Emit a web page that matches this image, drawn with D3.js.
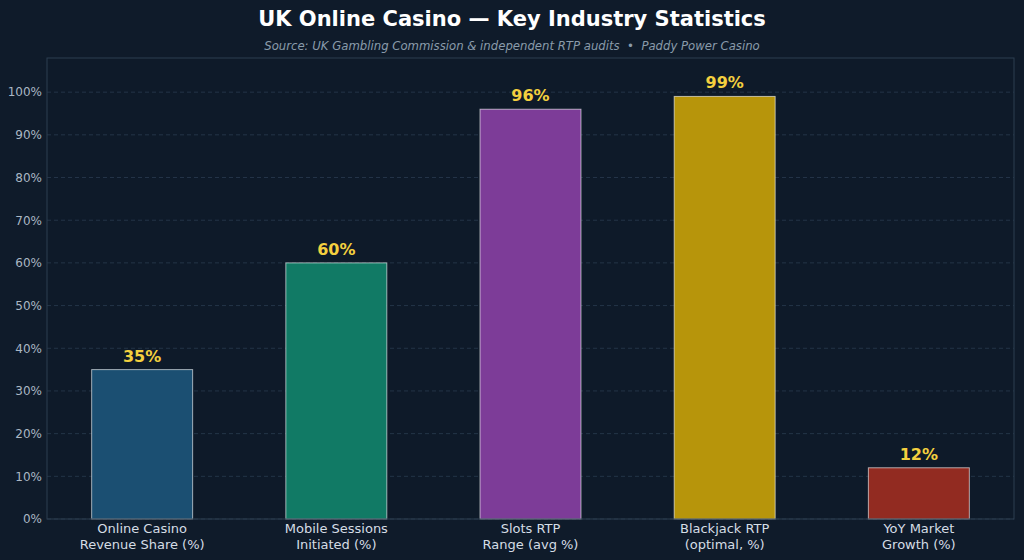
<!DOCTYPE html>
<html>
<head>
<meta charset="utf-8">
<script src="https://cdn.jsdelivr.net/npm/d3@7"></script>
<style>
  body { margin: 0; background: #0f1b2a; }
  svg { display: block; font-family: 'DejaVu Sans', sans-serif; }
</style>
</head>
<body>
<div id="chart"></div>
<script>
const categories = [
  'Online Casino\nRevenue Share (%)',
  'Mobile Sessions\nInitiated (%)',
  'Slots RTP\nRange (avg %)',
  'Blackjack RTP\n(optimal, %)',
  'YoY Market\nGrowth (%)'
];
const values = [35, 60, 96, 99, 12];
const barColors = ['#1b4f72', '#117a65', '#7d3c98', '#b7950b', '#922b21'];
const yTicks = [0, 10, 20, 30, 40, 50, 60, 70, 80, 90, 100];

const width = 1024, height = 560;
const margin = { top: 58, right: 10, bottom: 41, left: 47 };
const innerW = width - margin.left - margin.right;
const innerH = height - margin.top - margin.bottom;

const svg = d3.select('#chart').append('svg')
  .attr('width', width)
  .attr('height', height);

svg.append('rect').attr('width', width).attr('height', height).attr('fill', '#0f1b2a');

svg.append('text')
  .attr('x', width / 2).attr('y', 26)
  .attr('text-anchor', 'middle')
  .attr('fill', '#ffffff')
  .style('font-size', '21px').style('font-weight', 'bold')
  .text('UK Online Casino — Key Industry Statistics');

svg.append('text')
  .attr('x', width / 2).attr('y', 50)
  .attr('text-anchor', 'middle')
  .attr('fill', '#8a9bab')
  .style('font-size', '11.7px').style('font-style', 'italic')
  .style('white-space', 'pre')
  .text('Source: UK Gambling Commission & independent RTP audits  •  Paddy Power Casino');

const g = svg.append('g').attr('transform', 'translate(' + margin.left + ',' + margin.top + ')');

g.append('rect').attr('width', innerW).attr('height', innerH).attr('fill', '#0e1a29');

const x = d3.scaleBand().domain(categories).range([0, innerW]).paddingInner(0.48).paddingOuter(0.23);
const y = d3.scaleLinear().domain([0, 108]).range([innerH, 0]);

// grid
g.append('g')
  .selectAll('line')
  .data(yTicks)
  .enter()
  .append('line')
  .attr('x1', 0).attr('x2', innerW)
  .attr('y1', (d) => y(d)).attr('y2', (d) => y(d))
  .attr('stroke', '#2a3b4f')
  .attr('stroke-width', 0.8)
  .attr('stroke-dasharray', '4,3');

// bars
g.selectAll('rect.bar')
  .data(values)
  .enter()
  .append('rect')
  .attr('class', 'bar')
  .attr('x', (d, i) => x(categories[i]))
  .attr('y', (d) => y(d))
  .attr('width', x.bandwidth())
  .attr('height', (d) => innerH - y(d))
  .attr('fill', (d, i) => barColors[i])
  .attr('stroke', 'rgba(255,255,255,0.6)')
  .attr('stroke-width', 1);

// value labels
g.selectAll('text.val')
  .data(values)
  .enter()
  .append('text')
  .attr('class', 'val')
  .attr('x', (d, i) => x(categories[i]) + x.bandwidth() / 2)
  .attr('y', (d) => y(d) - 8)
  .attr('text-anchor', 'middle')
  .attr('fill', '#f4d03f')
  .style('font-size', '16px').style('font-weight', 'bold')
  .text((d) => d + '%');

// y axis
const yAxis = g.append('g')
  .call(d3.axisLeft(y).tickValues(yTicks).tickFormat((d) => d + '%').tickSize(0).tickPadding(5));
yAxis.select('.domain').remove();
yAxis.selectAll('text').attr('fill', '#aab7c4').style('font-size', '12px').style('font-family', 'DejaVu Sans');

// x axis
const xAxis = g.append('g')
  .attr('transform', 'translate(0,' + innerH + ')')
  .call(d3.axisBottom(x).tickSize(0).tickFormat(''));
xAxis.select('.domain').remove();
xAxis.selectAll('.tick').each(function (d) {
  const lines = d.split('\n');
  const t = d3.select(this).append('text')
    .attr('fill', '#d5dde5')
    .attr('text-anchor', 'middle')
    .style('font-size', '13px')
    .style('font-family', 'DejaVu Sans');
  lines.forEach((l, i) => {
    t.append('tspan').attr('x', 0).attr('y', 14 + i * 16).text(l);
  });
});

// frame
g.append('rect')
  .attr('width', innerW).attr('height', innerH)
  .attr('fill', 'none')
  .attr('stroke', '#2c3e50')
  .attr('stroke-width', 1);
</script>
</body>
</html>
